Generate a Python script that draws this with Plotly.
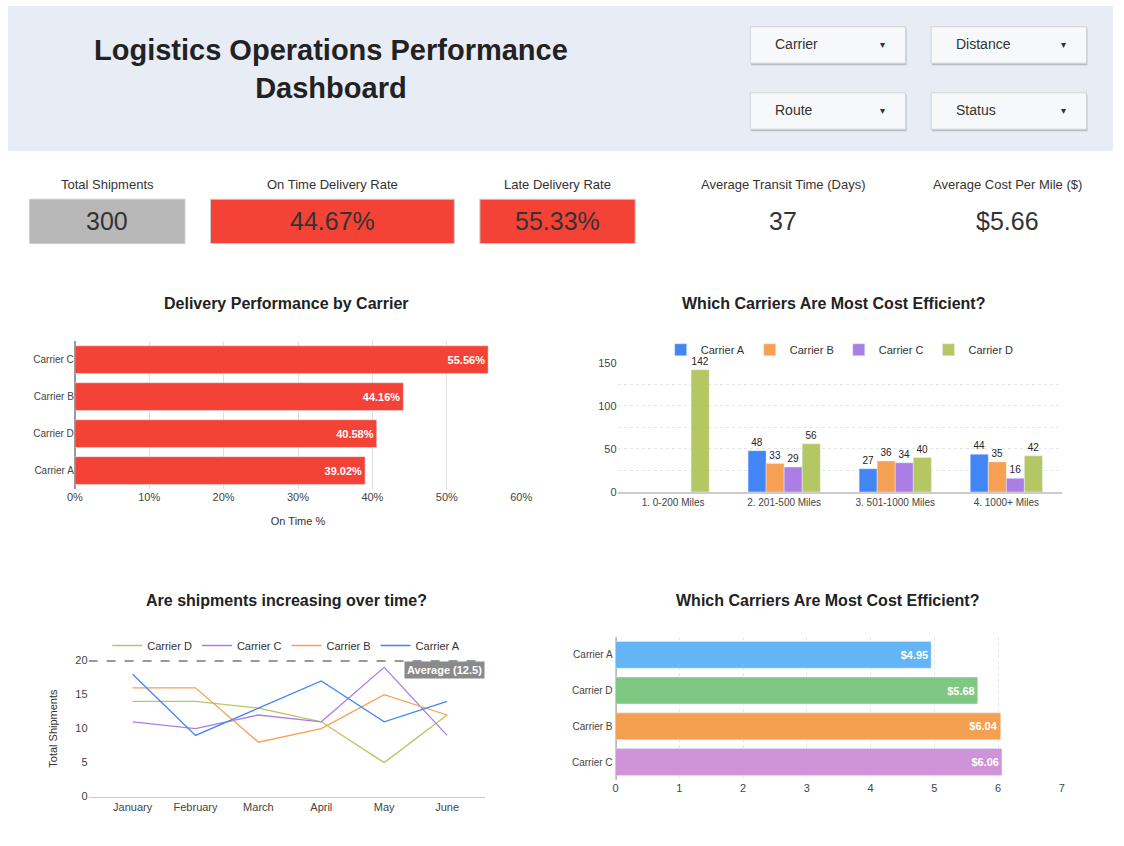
import plotly.graph_objects as go

W, H = 1124, 846

carriers_perf = ["Carrier A", "Carrier D", "Carrier B", "Carrier C"]
on_time_pct = [0.3902, 0.4058, 0.4416, 0.5556]

distance_bands = ["1. 0-200 Miles", "2. 201-500 Miles", "3. 501-1000 Miles", "4. 1000+ Miles"]
dist_a = [None, 48, 27, 44]
dist_b = [None, 33, 36, 35]
dist_c = [None, 29, 34, 16]
dist_d = [142, 56, 40, 42]

months = ["January", "February", "March", "April", "May", "June"]
ship_d = [14, 14, 13, 11, 5, 12]
ship_c = [11, 10, 12, 11, 19, 9]
ship_b = [16, 16, 8, 10, 15, 12]
ship_a = [18, 9, 13, 17, 11, 14]
avg_line = 20

cost_carriers = ["Carrier C", "Carrier B", "Carrier D", "Carrier A"]
cost_per_mile = [6.06, 6.04, 5.68, 4.95]
cost_colors = ["#ce93d8", "#f4a050", "#81c784", "#64b5f6"]

kpi_labels = ["Total Shipments", "On Time Delivery Rate", "Late Delivery Rate",
              "Average Transit Time (Days)", "Average Cost Per Mile ($)"]
kpi_values = ["300", "44.67%", "55.33%", "37", "$5.66"]

dropdowns = ["Carrier", "Distance", "Route", "Status"]

FONT = "Arial, 'Liberation Sans', sans-serif"
TXT = "#333333"


def px_x(x):
    return x / W


def px_y(y):
    return 1 - y / H


def dom_x(a, b):
    return [px_x(a), px_x(b)]


def dom_y(top, bottom):
    return [px_y(bottom), px_y(top)]


def note(text, x, y, size, color=TXT, xanchor="center", **kw):
    return dict(text=text, x=px_x(x), y=px_y(y), xref="paper", yref="paper", showarrow=False,
                xanchor=xanchor, yanchor="middle", font=dict(size=size, color=color, family=FONT), **kw)


fig = go.Figure()

# chart 1: delivery performance
fig.add_trace(go.Bar(
    y=carriers_perf, x=on_time_pct, orientation="h", marker_color="#f44336",
    text=[f"<b>{v*100:.2f}%</b>" for v in on_time_pct], textposition="inside",
    insidetextanchor="end", textfont=dict(color="white", size=11, family=FONT),
    xaxis="x", yaxis="y", showlegend=False, width=0.75,
))

# chart 2: distance bands
for name, vals, col in [("Carrier A", dist_a, "#4285f4"), ("Carrier B", dist_b, "#f6a054"),
                        ("Carrier C", dist_c, "#ab7ee6"), ("Carrier D", dist_d, "#b5c763")]:
    fig.add_trace(go.Bar(
        x=distance_bands, y=vals, name=name, marker_color=col,
        text=vals, textposition="outside", textfont=dict(size=10, color="#222"),
        cliponaxis=False, xaxis="x2", yaxis="y2", legend="legend",
    ))

# chart 3: shipments over time
for name, vals, col in [("Carrier D", ship_d, "#b5c763"), ("Carrier C", ship_c, "#ab7ee6"),
                        ("Carrier B", ship_b, "#f6a054"), ("Carrier A", ship_a, "#4285f4")]:
    fig.add_trace(go.Scatter(
        x=months, y=vals, name=name, mode="lines", line=dict(color=col, width=1.3),
        xaxis="x3", yaxis="y3", legend="legend2",
    ))
fig.add_trace(go.Scatter(
    x=[-0.7, 5.6], y=[avg_line, avg_line], mode="lines",
    line=dict(color="#333", width=2, dash="dash"), showlegend=False,
    xaxis="x5", yaxis="y3", hoverinfo="skip",
))

# chart 4: cost per mile
fig.add_trace(go.Bar(
    y=cost_carriers, x=cost_per_mile, orientation="h", marker_color=cost_colors,
    text=[f"<b>${v:.2f}</b>" for v in cost_per_mile], textposition="inside",
    insidetextanchor="end", textfont=dict(color="white", size=11, family=FONT),
    xaxis="x4", yaxis="y4", showlegend=False, width=0.75,
))

shapes = [dict(type="rect", xref="paper", yref="paper", x0=0, x1=1, y0=px_y(147), y1=1,
               fillcolor="#e8ecf5", line_width=0, layer="below")]
annotations = [note("<b>Logistics Operations Performance<br>Dashboard</b>", 329, 64, 29, "#222")]

dd_pos = [(755, 21), (939, 21), (755, 88), (939, 88)]
for label, (x0, y0) in zip(dropdowns, dd_pos):
    shapes.append(dict(type="rect", xref="paper", yref="paper", x0=px_x(x0 + 1), x1=px_x(x0 + 159),
                       y0=px_y(y0 + 39), y1=px_y(y0 + 2), fillcolor="#b8bcc4", line_width=0))
    shapes.append(dict(type="rect", xref="paper", yref="paper", x0=px_x(x0), x1=px_x(x0 + 158),
                       y0=px_y(y0 + 37), y1=px_y(y0), fillcolor="#f7f8fa",
                       line=dict(color="#d0d3d8", width=1)))
    annotations.append(note(label, x0 + 23, y0 + 18, 14, xanchor="left"))
    annotations.append(note("▾", x0 + 135, y0 + 18, 10))

kpi_centers = [101, 330, 559, 788, 1017]
kpi_boxes = [(22, 180, "#b7b7b7"), (206, 454, "#f44336"), (480, 638, "#f44336"), None, None]
for lbl, val, cx, box in zip(kpi_labels, kpi_values, kpi_centers, kpi_boxes):
    if box:
        shapes.append(dict(type="rect", xref="paper", yref="paper", x0=px_x(box[0]), x1=px_x(box[1]),
                           y0=px_y(241), y1=px_y(196), fillcolor=box[2], line=dict(color="#cccccc", width=1)))
    annotations.append(note(lbl, cx, 181, 13))
    annotations.append(note(val, cx, 218, 25))

for title, cx, cy in [("Delivery Performance by Carrier", 283, 302),
                      ("Which Carriers Are Most Cost Efficient?", 840, 302),
                      ("Are shipments increasing over time?", 283, 603),
                      ("Which Carriers Are Most Cost Efficient?", 834, 603)]:
    annotations.append(note(f"<b>{title}</b>", cx, cy, 16, "#222"))

annotations.append(dict(text="<b>Average (12.5)</b>", x=5.6, y=avg_line, xref="x5", yref="y3",
                        xanchor="right", yanchor="top", showarrow=False, bgcolor="#8a8a8a",
                        font=dict(size=11, color="white"), borderpad=2))

tick = dict(size=11, color="#444", family=FONT)
fig.update_layout(
    autosize=True, margin=dict(l=0, r=0, t=0, b=0),
    paper_bgcolor="white", plot_bgcolor="white", font=dict(family=FONT, color=TXT),
    shapes=shapes, annotations=annotations, barmode="group", bargap=0.35, bargroupgap=0,
    xaxis=dict(domain=dom_x(68, 522), anchor="y", range=[0, 0.6], dtick=0.1, tickformat=".0%",
               showgrid=True, gridcolor="#e0e0e0", zeroline=True, zerolinecolor="#999",
               tickfont=tick, title=dict(text="On Time %", font=dict(size=11))),
    yaxis=dict(domain=dom_y(340, 490), anchor="x", tickfont=dict(size=10, color="#444"),
               ticks="", showgrid=False),
    xaxis2=dict(domain=dom_x(620, 1072), anchor="y2", tickfont=dict(size=10, color="#444"),
                showline=True, linecolor="#ccc", linewidth=2),
    yaxis2=dict(domain=dom_y(362, 493), anchor="x2", range=[0, 150], dtick=50, tickfont=tick,
                showgrid=True, gridcolor="#e6e6e6", griddash="dot", zeroline=False,
                minor=dict(dtick=25, showgrid=True, gridcolor="#e6e6e6", griddash="dot")),
    xaxis3=dict(domain=dom_x(82, 485), anchor="y3", tickfont=dict(size=11, color="#444"),
                showline=True, linecolor="#ccc", range=[-0.7, 5.6]),
    yaxis3=dict(domain=dom_y(664, 802), anchor="x3", range=[0, 20], dtick=5, tickfont=tick,
                showgrid=False, zeroline=False, title=dict(text="Total Shipments", font=dict(size=11))),
    xaxis5=dict(overlaying="x3", anchor="y3", range=[-0.7, 5.6], visible=False),
    xaxis4=dict(domain=dom_x(618, 1072), anchor="y4", range=[0, 7], dtick=1, tickfont=tick,
                showgrid=True, gridcolor="#e6e6e6", griddash="dot", zeroline=True, zerolinecolor="#bbb"),
    yaxis4=dict(domain=dom_y(640, 785), anchor="x4", tickfont=dict(size=10, color="#444"), ticks="",
                showgrid=False, showline=True, linecolor="#ccc"),
    legend=dict(orientation="h", x=px_x(846), y=px_y(334), xanchor="center", yanchor="top",
                font=dict(size=11), traceorder="normal", itemwidth=30, bgcolor="rgba(0,0,0,0)"),
    legend2=dict(orientation="h", x=px_x(283), y=px_y(634), xanchor="center", yanchor="top",
                 font=dict(size=11), itemwidth=30, bgcolor="rgba(0,0,0,0)"),
)

fig.write_html(
    "out.html",
    config={"displayModeBar": False, "responsive": True},
    default_width=f"{W}px",
    default_height=f"{H}px",
    post_script=(
        "document.body.style.margin='0';document.body.style.overflow='hidden';"
        "Plotly.Plots.resize(document.getElementById('{plot_id}'));"
    ),
)
